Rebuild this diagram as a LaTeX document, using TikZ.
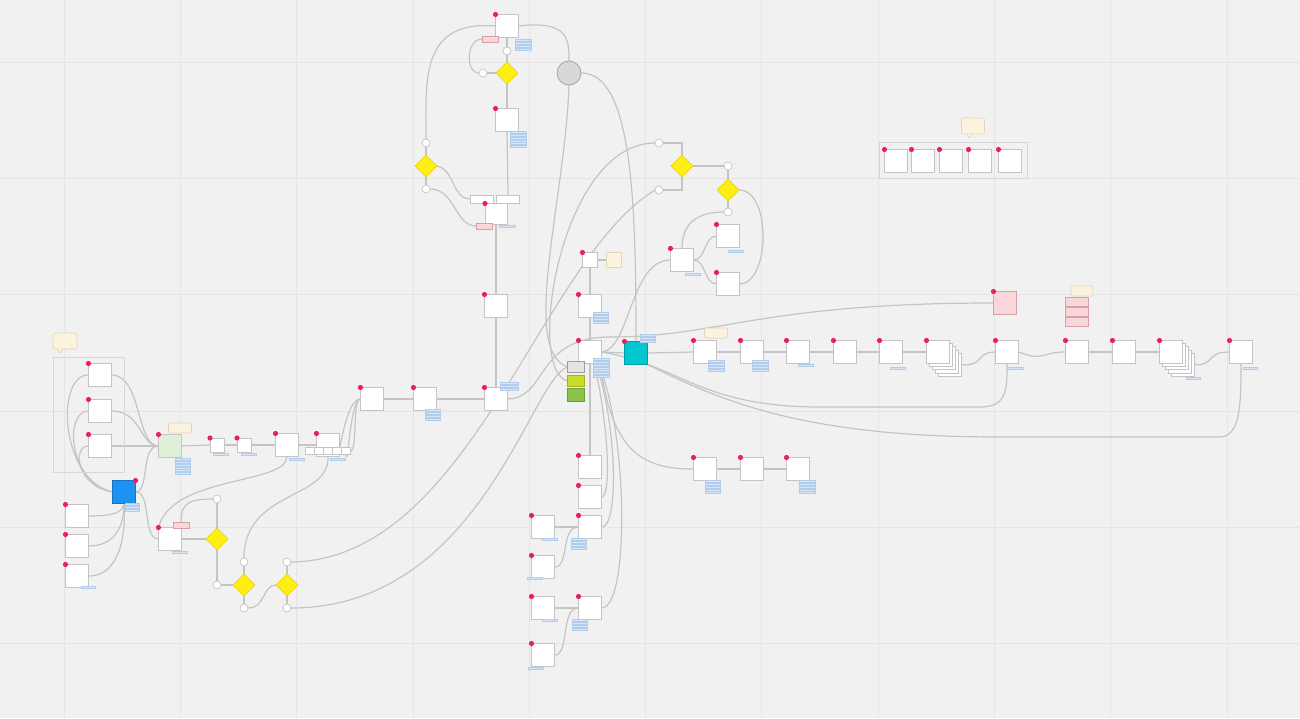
\documentclass[tikz,border=0pt]{standalone}
\usetikzlibrary{shapes.geometric,calc}
\definecolor{bgc}{RGB}{241,241,241}
\definecolor{gridc}{RGB}{229,229,229}
\definecolor{linec}{RGB}{196,196,196}
\definecolor{boxc}{RGB}{196,196,196}
\definecolor{pinkc}{RGB}{233,30,99}
\definecolor{yelc}{RGB}{255,238,20}
\definecolor{yelb}{RGB}{230,212,0}
\definecolor{creamc}{RGB}{251,243,222}
\definecolor{creamb}{RGB}{226,214,182}
\definecolor{pkf}{RGB}{248,214,218}
\definecolor{pkb}{RGB}{215,160,166}
\definecolor{notef}{RGB}{214,230,247}
\definecolor{noteb}{RGB}{178,204,236}
\definecolor{bluec}{RGB}{28,146,242}
\definecolor{cyanc}{RGB}{0,200,208}
\definecolor{greenl}{RGB}{222,240,216}
\definecolor{limec}{RGB}{200,220,40}
\definecolor{greenc}{RGB}{139,195,74}
\definecolor{grayc}{RGB}{216,216,216}
\pgfdeclarelayer{bglayer}
\pgfdeclarelayer{lines}
\pgfsetlayers{bglayer,lines,main}
\newcommand{\pdot}[1]{\fill[pinkc] (#1.north west) circle (2.6pt);}
\newcommand{\pdotr}[1]{\fill[pinkc] (#1.north east) circle (2.6pt);}
\newcommand{\nts}[4]{\foreach \k in {1,...,#3}{\filldraw[fill=notef,draw=noteb,line width=0.3pt] (#1,{#2+(\k-1)*2.9}) rectangle ++(#4,2);}}
\begin{document}
\begin{tikzpicture}[x=1pt,y=-1pt,
  box/.style={draw=boxc,fill=white,line width=0.9pt,minimum width=23pt,minimum height=23pt,inner sep=0pt,outer sep=0pt},
  sbox/.style={box,minimum width=15pt,minimum height=15pt},
  conn/.style={draw=linec,line width=1.2pt},
  dia/.style={diamond,draw=yelb,fill=yelc,line width=0.6pt,minimum width=22pt,minimum height=22pt,inner sep=0pt,outer sep=0pt},
  yn/.style={circle,draw=boxc,fill=white,line width=0.7pt,minimum size=8pt,inner sep=0pt,outer sep=0pt},
  tip/.style={draw=creamb,fill=creamc,line width=0.6pt,rounded corners=1.5pt,inner sep=0pt,outer sep=0pt},
  pk/.style={draw=pkb,fill=pkf,line width=0.6pt,inner sep=0pt,outer sep=0pt},
  grp/.style={draw=boxc!70,line width=0.8pt}]
\useasboundingbox (0,0) rectangle (1300,718);
\begin{pgfonlayer}{bglayer}
\fill[bgc] (0,0) rectangle (1300,718);
\foreach \i in {0,...,10}{\draw[gridc,line width=0.7pt] ({64+\i*116.3},0) -- ({64+\i*116.3},718);}
\foreach \i in {0,...,5}{\draw[gridc,line width=0.7pt] (0,{62+\i*116.3}) -- (1300,{62+\i*116.3});}
\end{pgfonlayer}

% ---------- left group ----------
\node[tip,minimum width=24pt,minimum height=16pt] (tipL) at (65,341) {};
\fill[creamc] (58,348.5) -- (60,354) -- (63,348.5) -- cycle;
\draw[creamb,line width=0.6pt] (58,349) -- (60,354) -- (63,349);
\draw[grp] (53,357) rectangle (124,472);
\node[box] (A1) at (100,375) {}; \pdot{A1}
\node[box] (A2) at (100,411) {}; \pdot{A2}
\node[box] (A3) at (100,446) {}; \pdot{A3}
\node[box,fill=greenl] (G) at (170,446) {}; \pdot{G}
\node[tip,minimum width=23pt,minimum height=10pt] (tipG) at (180,428) {};
\nts{175}{458}{6}{15}
\node[box,fill=bluec,draw=bluec!80!black] (BL) at (124,492) {}; \pdotr{BL}
\nts{125}{503}{3}{14}
\node[box] (B1) at (77,516) {}; \pdot{B1}
\node[box] (B2) at (77,546) {}; \pdot{B2}
\node[box] (B3) at (77,576) {}; \pdot{B3}
\nts{81}{586}{1}{14}
\node[box] (C) at (170,539) {}; \pdot{C}
\node[pk,minimum width=16pt,minimum height=6pt] (Ctag) at (181,525) {};
\nts{172}{551}{1}{15}
\node[dia] (dm1) at (217,539) {};
\node[yn] (cy1) at (217,499) {};
\node[yn] (cn1) at (217,585) {};
\node[dia] (dm2) at (244,585) {};
\node[yn] (c2a) at (244,562) {};
\node[yn] (c2b) at (244,608) {};
\node[dia] (dm3) at (287,585) {};
\node[yn] (c3a) at (287,562) {};
\node[yn] (c3b) at (287,608) {};
\node[box,minimum width=14pt,minimum height=14pt] (D1) at (217,445) {}; \pdot{D1}
\nts{213}{453}{1}{15}
\node[box,minimum width=14pt,minimum height=14pt] (D2) at (244,445) {}; \pdot{D2}
\nts{241}{453}{1}{15}
\node[box] (D3) at (287,445) {}; \pdot{D3}
\nts{289}{458}{1}{15}
\node[box] (D4) at (328,445) {}; \pdot{D4}
\nts{330}{458}{1}{15}
\foreach \k/\xx in {1/310,2/319,3/328,4/337,5/346}{\node[box,minimum width=8.5pt,minimum height=7pt] (sb\k) at (\xx,451) {};}
\node[box] (L1) at (372,399) {}; \pdot{L1}
\node[box] (L2) at (425,399) {}; \pdot{L2}
\nts{425}{409}{4}{15}

% ---------- top centre ----------
\node[box] (T1) at (507,26) {}; \pdot{T1}
\node[pk,minimum width=16pt,minimum height=6pt] (T1tag) at (490,39) {};
\nts{515}{39}{4}{16}
\node[yn] (ct1) at (507,51) {};
\node[dia] (dm4) at (507,73) {};
\node[yn] (ct2) at (483,73) {};
\node[box] (T2) at (507,120) {}; \pdot{T2}
\nts{510}{131}{6}{16}
\node[circle,draw=boxc!80!black,fill=grayc,line width=0.7pt,minimum size=24pt,inner sep=0pt] (GC) at (569,73) {};
\node[yn] (cl1) at (426,143) {};
\node[dia] (dm5) at (426,166) {};
\node[yn] (cl2) at (426,189) {};
\node[box,minimum width=23pt,minimum height=8pt] (W1) at (482,199) {};
\node[box,minimum width=23pt,minimum height=8pt] (W2) at (508,199) {};
\node[box,minimum width=22pt,minimum height=21pt] (T3) at (496,214) {}; \pdot{T3}
\node[pk,minimum width=16pt,minimum height=6pt] (T3tag) at (484,226) {};
\nts{499}{225}{1}{16}
\node[box] (U3) at (496,306) {}; \pdot{U3}
\node[box] (U4) at (496,399) {}; \pdot{U4}
\nts{500}{382}{3}{18}
\node[sbox] (U1) at (590,260) {}; \pdot{U1}
\node[box,fill=creamc,draw=creamb,minimum width=15pt,minimum height=15pt] (CR) at (614,260) {};
\node[box] (U2) at (590,306) {}; \pdot{U2}
\nts{593}{312}{4}{15}
\node[box] (C0) at (590,352) {}; \pdot{C0}
\nts{593}{358}{7}{16}
\node[box,fill=grayc!70,draw=boxc!80!black,minimum width=17pt,minimum height=11pt] (Gb) at (576,367) {};
\node[box,fill=limec,draw=limec!80!black,minimum width=17pt,minimum height=11pt] (Lb) at (576,381) {};
\node[box,fill=greenc,draw=greenc!80!black,minimum width=17pt,minimum height=13pt] (Gn) at (576,395) {};
\node[box,fill=cyanc,draw=cyanc!80!black] (Cy) at (636,353) {}; \pdot{Cy}
\nts{640}{334}{3}{15}

% ---------- right top ----------
\node[yn] (cr1) at (659,143) {};
\node[dia] (dm6) at (682,166) {};
\node[yn] (cr2) at (659,190) {};
\node[yn] (cr3) at (728,166) {};
\node[dia] (dm7) at (728,190) {};
\node[yn] (cr4) at (728,212) {};
\node[box] (V1) at (682,260) {}; \pdot{V1}
\nts{685}{273}{1}{15}
\node[box] (V2) at (728,236) {}; \pdot{V2}
\nts{728}{250}{1}{15}
\node[box] (V3) at (728,284) {}; \pdot{V3}

% ---------- main row ----------
\node[tip,minimum width=23pt,minimum height=10pt] (tipR) at (716,333) {};
\node[box] (R1) at (705,352) {}; \pdot{R1}
\nts{708}{360}{4}{16}
\node[box] (R2) at (752,352) {}; \pdot{R2}
\nts{752}{360}{4}{16}
\node[box] (R3) at (798,352) {}; \pdot{R3}
\nts{798}{364}{1}{15}
\node[box] (R4) at (845,352) {}; \pdot{R4}
\node[box] (R5) at (891,352) {}; \pdot{R5}
\nts{890}{367}{1}{15}
\foreach \k in {4,3,2,1}{\node[box] (R6s\k) at ({938+3*\k},{352+3.2*\k}) {};}
\node[box] (R6) at (938,352) {}; \pdot{R6}
\node[box,fill=pkf,draw=pkb] (P1) at (1005,303) {}; \pdot{P1}
\node[tip,minimum width=22pt,minimum height=10pt] (tipP) at (1082,291) {};
\node[pk,minimum width=23pt,minimum height=8.5pt] (Pk1) at (1077,302) {};
\node[pk,minimum width=23pt,minimum height=8.5pt] (Pk2) at (1077,312) {};
\node[pk,minimum width=23pt,minimum height=8.5pt] (Pk3) at (1077,322) {};
\node[box] (R7) at (1007,352) {}; \pdot{R7}
\nts{1007}{367}{1}{16}
\node[box] (R8) at (1077,352) {}; \pdot{R8}
\node[box] (R9) at (1124,352) {}; \pdot{R9}
\foreach \k in {4,3,2,1}{\node[box] (R10s\k) at ({1171+3*\k},{352+3.2*\k}) {};}
\node[box] (R10) at (1171,352) {}; \pdot{R10}
\nts{1186}{377}{1}{14}
\node[box] (R11) at (1241,352) {}; \pdot{R11}
\nts{1243}{367}{1}{14}

% ---------- top right group ----------
\node[tip,minimum width=23pt,minimum height=16pt] (tipK) at (973,126) {};
\fill[creamc] (967,133.5) -- (969,138) -- (972,133.5) -- cycle;
\draw[creamb,line width=0.6pt] (967,134) -- (969,138) -- (972,134);
\draw[grp] (879,142) rectangle (1027,178);
\foreach \k/\xx in {1/896,2/923,3/951,4/980,5/1010}{\node[box] (K\k) at (\xx,161) {}; \pdot{K\k}}

% ---------- bottom centre ----------
\node[box] (S1) at (590,467) {}; \pdot{S1}
\node[box] (S2) at (590,497) {}; \pdot{S2}
\node[box] (S3) at (590,527) {}; \pdot{S3}
\nts{571}{538}{4}{15}
\node[box] (S4) at (543,527) {}; \pdot{S4}
\nts{542}{538}{1}{15}
\node[box] (S5) at (543,567) {}; \pdot{S5}
\nts{527}{577}{1}{15}
\node[box] (S6) at (590,608) {}; \pdot{S6}
\nts{572}{619}{4}{15}
\node[box] (S7) at (543,608) {}; \pdot{S7}
\nts{542}{619}{1}{15}
\node[box] (S8) at (543,655) {}; \pdot{S8}
\nts{528}{667}{1}{15}
\node[box] (Q1) at (705,469) {}; \pdot{Q1}
\nts{705}{480}{5}{15}
\node[box] (Q2) at (752,469) {}; \pdot{Q2}
\node[box] (Q3) at (798,469) {}; \pdot{Q3}
\nts{799}{480}{5}{16}

% ---------- connectors ----------
\begin{pgfonlayer}{lines}
\draw[conn] (A1.west) .. controls (55,375) and (60,480) .. (BL.west);
\draw[conn] (A2.west) .. controls (64,411) and (68,482) .. (BL.west);
\draw[conn] (A3.west) .. controls (72,446) and (76,486) .. (BL.west);
\draw[conn] (A1.east) .. controls (142,375) and (136,446) .. (G.west);
\draw[conn] (A2.east) .. controls (142,411) and (140,446) .. (G.west);
\draw[conn] (A3.east) -- (G.west);
\draw[conn] (BL.east) .. controls (150,492) and (140,446) .. (G.west);
\draw[conn] (BL.east) .. controls (152,492) and (142,539) .. (C.west);
\draw[conn] (B1.east) .. controls (116,516) and (122,512) .. (BL.south);
\draw[conn] (B2.east) .. controls (118,546) and (124,522) .. (BL.south);
\draw[conn] (B3.east) .. controls (121,576) and (126,532) .. (BL.south);
\draw[conn] (G.east) -- (D1.west);
\draw[conn] (D1.east) -- (D2.west);
\draw[conn] (D2.east) -- (D3.west);
\draw[conn] (D3.east) -- (D4.west);
\draw[conn] (sb4.south) .. controls (338,470) and (344,399) .. (L1.west);
\draw[conn] (sb5.south) .. controls (348,470) and (350,399) .. (L1.west);
\draw[conn] (sb5.east) .. controls (358,451) and (352,399) .. (L1.west);
\draw[conn] (L1.east) -- (L2.west);
\draw[conn] (L2.east) -- (U4.west);
\draw[conn] (C.north west) .. controls (172,475) and (287,485) .. (D3.south);
\draw[conn] (cy1.west) .. controls (185,499) and (180,505) .. (C.north east);
\draw[conn] (C.east) -- (dm1.west);
\draw[conn] (dm1.north) -- (cy1.south);
\draw[conn] (dm1.south) -- (cn1.north);
\draw[conn] (cn1.east) -- (dm2.west);
\draw[conn] (dm2.north) -- (c2a.south);
\draw[conn] (dm2.south) -- (c2b.north);
\draw[conn] (c2a.north) .. controls (244,490) and (330,500) .. (D4.south);
\draw[conn] (c2b.east) .. controls (266,608) and (262,585) .. (dm3.west);
\draw[conn] (dm3.north) -- (c3a.south);
\draw[conn] (dm3.south) -- (c3b.north);
\draw[conn] (c3a.east) .. controls (470,560) and (540,260) .. (cr2.west);
\draw[conn] (c3b.east) .. controls (480,608) and (530,380) .. (Gb.west);
% top
\draw[conn] (T1.west) .. controls (420,20) and (426,80) .. (cl1.north);
\draw[conn] (T1.east) .. controls (569,20) and (569,40) .. (GC.north);
\draw[conn] (T1.south) -- (ct1.north);
\draw[conn] (ct1.south) -- (dm4.north);
\draw[conn] (dm4.west) -- (ct2.east);
\draw[conn] (ct2.west) .. controls (465,73) and (466,39) .. (T1tag.west);
\draw[conn] (dm4.south) -- (T2.north);
\draw[conn] (T2.south) -- (W2.north);
\draw[conn] (cl1.south) -- (dm5.north);
\draw[conn] (dm5.south) -- (cl2.north);
\draw[conn] (dm5.east) .. controls (455,170) and (452,199) .. (W1.west);
\draw[conn] (cl2.east) .. controls (455,189) and (455,226) .. (T3tag.west);
\draw[conn] (T3.south) -- (U3.north);
\draw[conn] (U3.south) -- (U4.north);
\draw[conn] (GC.south) .. controls (565,200) and (520,350) .. (Gb.west);
\draw[conn] (GC.east) .. controls (632,73) and (636,200) .. (Cy.north);
\draw[conn] (cr1.west) .. controls (560,143) and (525,370) .. (Lb.west);
% right top
\draw[conn] (cr1.east) -| (dm6.north);
\draw[conn] (cr2.east) -| (dm6.south);
\draw[conn] (dm6.east) -- (cr3.west);
\draw[conn] (cr3.south) -- (dm7.north);
\draw[conn] (dm7.south) -- (cr4.north);
\draw[conn] (cr4.west) .. controls (692,212) and (682,228) .. (V1.north);
\draw[conn] (dm7.east) .. controls (772,190) and (770,284) .. (V3.east);
\draw[conn] (V1.east) .. controls (706,260) and (704,236) .. (V2.west);
\draw[conn] (V1.east) .. controls (706,260) and (704,284) .. (V3.west);
\draw[conn] (V1.west) .. controls (630,260) and (630,350) .. (C0.east);
% centre
\draw[conn] (U1.south) -- (U2.north);
\draw[conn] (U1.east) -- (CR.west);
\draw[conn] (U2.south) -- (C0.north);
\draw[conn] (C0.east) -- (Cy.west);
\draw[conn] (Cy.east) -- (R1.west);
\draw[conn] (U4.east) .. controls (548,398) and (535,337) .. (610,337) .. controls (720,337) and (760,303) .. (P1.west);
\draw[conn] (R1.east) -- (R2.west);
\draw[conn] (R2.east) -- (R3.west);
\draw[conn] (R3.east) -- (R4.west);
\draw[conn] (R4.east) -- (R5.west);
\draw[conn] (R5.east) -- (R6.west);
\draw[conn] (R6s4.east) .. controls (985,366) and (975,352) .. (R7.west);
\draw[conn] (R7.east) .. controls (1045,362) and (1040,352) .. (R8.west);
\draw[conn] (R8.east) -- (R9.west);
\draw[conn] (R9.east) -- (R10.west);
\draw[conn] (R10s4.east) .. controls (1215,366) and (1205,352) .. (R11.west);
\draw[conn] (C0.east) .. controls (680,365) and (700,407) .. (820,407) -- (980,407) .. controls (1007,407) and (1007,390) .. (R7.south);
\draw[conn] (Cy.south east) .. controls (720,400) and (800,437) .. (1000,437) -- (1220,437) .. controls (1241,437) and (1241,400) .. (R11.south);
\draw[conn] (C0.south) -- (S1.north);
\draw[conn] ([xshift=4pt]C0.south) .. controls (608,420) and (612,497) .. (S2.east);
\draw[conn] ([xshift=6pt]C0.south) .. controls (616,420) and (620,527) .. (S3.east);
\draw[conn] ([xshift=8pt]C0.south) .. controls (628,430) and (630,608) .. (S6.east);
\draw[conn] ([xshift=10pt]C0.south) .. controls (612,450) and (640,469) .. (Q1.west);
\draw[conn] (S4.east) -- (S3.west);
\draw[conn] (S5.east) .. controls (570,567) and (560,527) .. (S3.west);
\draw[conn] (S7.east) -- (S6.west);
\draw[conn] (S8.east) .. controls (570,655) and (560,608) .. (S6.west);
\draw[conn] (Q1.east) -- (Q2.west);
\draw[conn] (Q2.east) -- (Q3.west);
\end{pgfonlayer}
\end{tikzpicture}
\end{document}
